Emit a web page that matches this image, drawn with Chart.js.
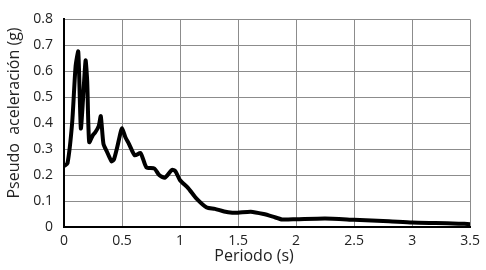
<!DOCTYPE html>
<html>
<head>
<meta charset="utf-8">
<script src="https://cdn.jsdelivr.net/npm/chart.js@4"></script>
<style>
  html, body { margin: 0; padding: 0; background: #fff; }
  #c { display: block; }
</style>
</head>
<body>
<canvas id="c" width="486" height="270"></canvas>
<script>
const periods = [
  0, 0.03, 0.07, 0.1, 0.123, 0.145, 0.165, 0.186, 0.2, 0.217,
  0.25, 0.27, 0.3, 0.317, 0.34, 0.37, 0.41, 0.43, 0.46, 0.48,
  0.5, 0.53, 0.56, 0.61, 0.66, 0.71, 0.78, 0.82, 0.87, 0.93,
  0.96, 1.0, 1.07, 1.14, 1.23, 1.3, 1.38, 1.45, 1.5, 1.61,
  1.72, 1.8, 1.88, 2.0, 2.25, 2.5, 2.6, 2.8, 3.0, 3.2, 3.4, 3.5
];
const accel = [
  0.235, 0.245, 0.4, 0.62, 0.676, 0.38, 0.5, 0.642, 0.56, 0.327,
  0.355, 0.365, 0.39, 0.427, 0.32, 0.29, 0.253, 0.26, 0.31, 0.35,
  0.381, 0.345, 0.32, 0.276, 0.285, 0.23, 0.225, 0.2, 0.19, 0.22,
  0.215, 0.18, 0.15, 0.11, 0.075, 0.07, 0.06, 0.055, 0.055, 0.059,
  0.05, 0.04, 0.029, 0.03, 0.033, 0.028, 0.026, 0.022, 0.017, 0.015, 0.013, 0.011
];
const xTicks = [0, 0.5, 1, 1.5, 2, 2.5, 3, 3.5];
const yTitle = 'Pseudo  aceleración (g)';
const xTitle = 'Periodo (s)';

const font = '"Open Sans", "Liberation Sans", sans-serif';

const axisTitles = {
  id: 'axisTitles',
  afterDraw(chart) {
    const ctx = chart.ctx;
    ctx.save();
    ctx.fillStyle = '#222';
    ctx.textAlign = 'center';
    ctx.textBaseline = 'middle';
    ctx.font = '16px ' + font;
    ctx.fillText(xTitle, 254, 256);
    ctx.translate(14, 113);
    ctx.rotate(-Math.PI / 2);
    ctx.fillText(yTitle, 0, 0);
    ctx.restore();
  }
};

const fmt = v => String(Math.round(v * 10) / 10);

new Chart(document.getElementById('c'), {
  type: 'line',
  data: {
    datasets: [{
      data: periods.map((p, i) => ({ x: p, y: accel[i] })),
      borderColor: '#000',
      borderWidth: 4,
      pointRadius: 0,
      tension: 0.2,
      fill: false
    }]
  },
  options: {
    responsive: false,
    animation: false,
    layout: { padding: { top: 9, right: 14, left: 0, bottom: 0 } },
    plugins: { legend: { display: false }, tooltip: { enabled: false } },
    scales: {
      x: {
        type: 'linear',
        min: 0, max: 3.5,
        afterBuildTicks(scale) { scale.ticks = xTicks.map(v => ({ value: v })); },
        afterFit(scale) { scale.height = 43; },
        grid: { color: '#8c8c8c', lineWidth: 1, drawTicks: false },
        border: { color: '#000', width: 2 },
        ticks: { color: '#222', font: { family: font, size: 14 }, padding: 6, maxRotation: 0,
          callback: fmt }
      },
      y: {
        min: 0, max: 0.8,
        afterFit(scale) { scale.width = 64; },
        grid: { color: '#8c8c8c', lineWidth: 1, drawTicks: false },
        border: { color: '#000', width: 2 },
        ticks: { stepSize: 0.1, color: '#222', font: { family: font, size: 14 }, padding: 11,
          callback: fmt }
      }
    }
  },
  plugins: [axisTitles]
});
</script>
</body>
</html>
